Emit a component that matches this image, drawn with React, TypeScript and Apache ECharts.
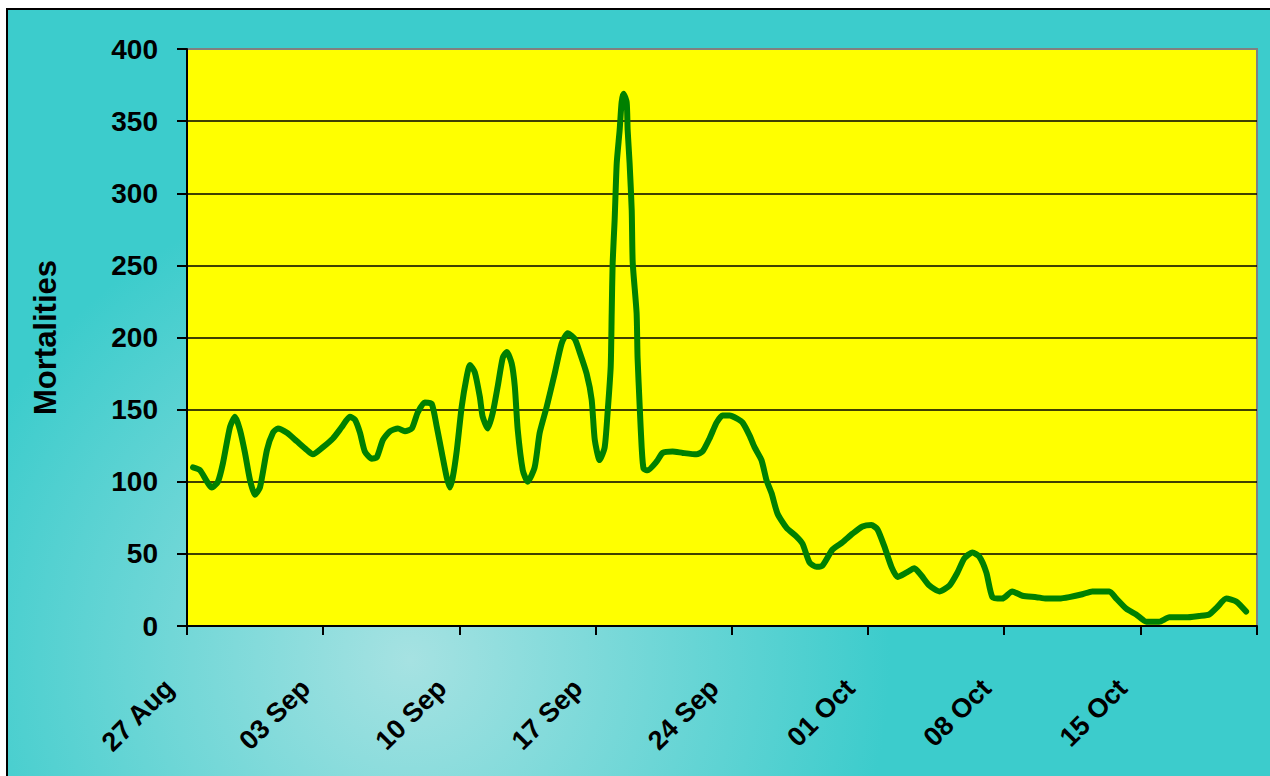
import { useEffect, useRef } from 'react';
import * as echarts from 'echarts';

const tickLabels = ['27 Aug', '03 Sep', '10 Sep', '17 Sep', '24 Sep', '01 Oct', '08 Oct', '15 Oct'];
const yTicks = [0, 50, 100, 150, 200, 250, 300, 350, 400];

// days since 27 Aug
const dayOffsets = [
  0.31, 0.67, 1.28, 1.59, 1.85, 2.21, 2.47, 2.72, 2.98, 3.24, 3.49, 3.75, 4.11, 4.42, 4.67, 5.14,
  5.65, 6.16, 6.47, 6.99, 7.5, 7.96, 8.37, 8.63, 8.89, 9.14, 9.5, 9.76, 10.07, 10.43, 10.84, 11.2,
  11.56, 11.86, 12.22, 12.58, 12.84, 13.1, 13.35, 13.51, 13.66, 13.87, 14.12, 14.38, 14.54, 14.79,
  15.05, 15.2, 15.46, 15.72, 15.97, 16.23, 16.44, 16.69, 16.85, 17.0, 17.26, 17.51, 17.87, 18.13,
  18.49, 18.9, 19.26, 19.57, 19.93, 20.18, 20.54, 20.8, 20.96, 21.21, 21.47, 21.62, 21.78, 21.83,
  21.88, 21.98, 22.09, 22.24, 22.34, 22.44, 22.6, 22.65, 22.75, 22.86, 22.91, 23.11, 23.16, 23.27,
  23.37, 23.47, 23.68, 24.14, 24.45, 24.96, 25.48, 26.19, 26.5, 26.86, 27.22, 27.53, 27.89, 28.25,
  28.56, 28.92, 29.17, 29.53, 29.79, 30.05, 30.35, 30.82, 31.33, 31.64, 32.0, 32.36, 32.67, 33.18,
  33.69, 34.21, 34.72, 35.18, 35.49, 35.85, 36.21, 36.52, 36.98, 37.39, 37.75, 38.16, 38.67, 39.19,
  39.6, 39.96, 40.37, 40.73, 41.09, 41.4, 41.91, 42.42, 42.94, 43.66, 44.17, 44.84, 45.35, 46.02,
  46.53, 47.41, 47.77, 48.28, 48.79, 49.31, 49.97, 50.49, 51.36, 52.03, 52.54, 52.95, 53.42, 53.93,
  54.44,
];

const mortalities = [
  110, 108, 96, 100, 113, 138, 145, 136, 120, 101, 91, 96, 122, 134, 137, 134,
  128, 122, 119, 124, 130, 138, 145, 143, 134, 121, 116, 117, 129, 135, 137, 135,
  137, 148, 155, 154, 138, 120, 103, 96, 103, 122, 152, 173, 181, 176,
  159, 145, 137, 148, 166, 186, 190, 182, 166, 136, 108, 100, 110, 134,
  152, 175, 196, 203, 199, 190, 175, 157, 129, 115, 124, 148, 180, 217,
  252, 281, 321, 344, 363, 369, 363, 344, 321, 288, 252, 217, 186, 152,
  124, 109, 108, 114, 120, 121, 120, 119, 121, 130, 141, 146, 146, 144,
  141, 132, 124, 115, 101, 92, 78, 68, 62, 57, 44, 41, 42, 53,
  58, 64, 69, 70, 67, 55, 41, 34, 37, 40, 35, 28, 24, 28,
  37, 47, 51, 48, 37, 20, 19, 24, 21, 20, 19, 19, 20, 22,
  24, 24, 19, 12, 8, 3, 3, 6, 6, 7, 8, 13, 19, 17,
  10,
];

const FONT = 'Arial, "Liberation Sans", sans-serif';

export default function App() {
  const ref = useRef<HTMLDivElement>(null);
  useEffect(() => {
    const chart = echarts.init(ref.current!, null, { renderer: 'svg' });
    const data = dayOffsets.map((d, i) => [d, mortalities[i]]);
    const gridColors = yTicks.map((v) => (v === 400 ? '#808080' : '#000000'));
    chart.setOption({
      animation: false,
      graphic: [
        {
          type: 'rect',
          z: -100,
          silent: true,
          shape: { x: 7, y: 9, width: 1300, height: 800 },
          style: {
            fill: {
              type: 'radial',
              x: 410,
              y: 660,
              r: 480,
              global: true,
              colorStops: [
                { offset: 0, color: '#A6E2E2' },
                { offset: 1, color: '#3CCCCC' },
              ],
            },
            stroke: '#000000',
            lineWidth: 2,
          },
        },
      ],
      grid: {
        left: 187,
        top: 49,
        width: 1070,
        height: 577,
        show: true,
        backgroundColor: '#FFFF00',
        borderColor: '#808080',
        borderWidth: 2,
      },
      xAxis: {
        type: 'value',
        min: 0,
        max: 55,
        interval: 7,
        axisLine: { show: true, lineStyle: { color: '#000', width: 2 } },
        axisTick: { show: true, length: 9, lineStyle: { color: '#000', width: 2 } },
        splitLine: { show: false },
        axisLabel: {
          rotate: 45,
          margin: 40,
          padding: [0, 25, 0, 0],
          color: '#000',
          fontFamily: FONT,
          fontWeight: 'bold',
          fontSize: 27,
          formatter: (v: number) => {
            const i = Math.round(v / 7);
            return Math.abs(v - i * 7) < 1e-6 && tickLabels[i] ? tickLabels[i] : '';
          },
        },
      },
      yAxis: {
        type: 'value',
        min: 0,
        max: 400,
        interval: 50,
        name: 'Mortalities',
        nameLocation: 'middle',
        nameRotate: 90,
        nameGap: 126,
        nameTextStyle: { color: '#000', fontFamily: FONT, fontWeight: 'bold', fontSize: 31 },
        axisLine: { show: true, lineStyle: { color: '#000', width: 2 } },
        axisTick: { show: true, length: 10, lineStyle: { color: '#000', width: 2 } },
        axisLabel: {
          margin: 29,
          color: '#000',
          fontFamily: FONT,
          fontWeight: 'bold',
          fontSize: 28,
        },
        splitLine: { show: true, lineStyle: { color: gridColors, width: 1.5 } },
      },
      series: [
        {
          type: 'line',
          data,
          smooth: 0.2,
          showSymbol: false,
          symbol: 'none',
          lineStyle: { color: '#008000', width: 6, cap: 'round', join: 'round' },
          z: 5,
        },
      ],
    });
    return () => chart.dispose();
  }, []);
  return (
    <div
      ref={ref}
      style={{ position: 'fixed', left: 0, top: 0, width: 1270, height: 776, background: '#ffffff' }}
    />
  );
}
